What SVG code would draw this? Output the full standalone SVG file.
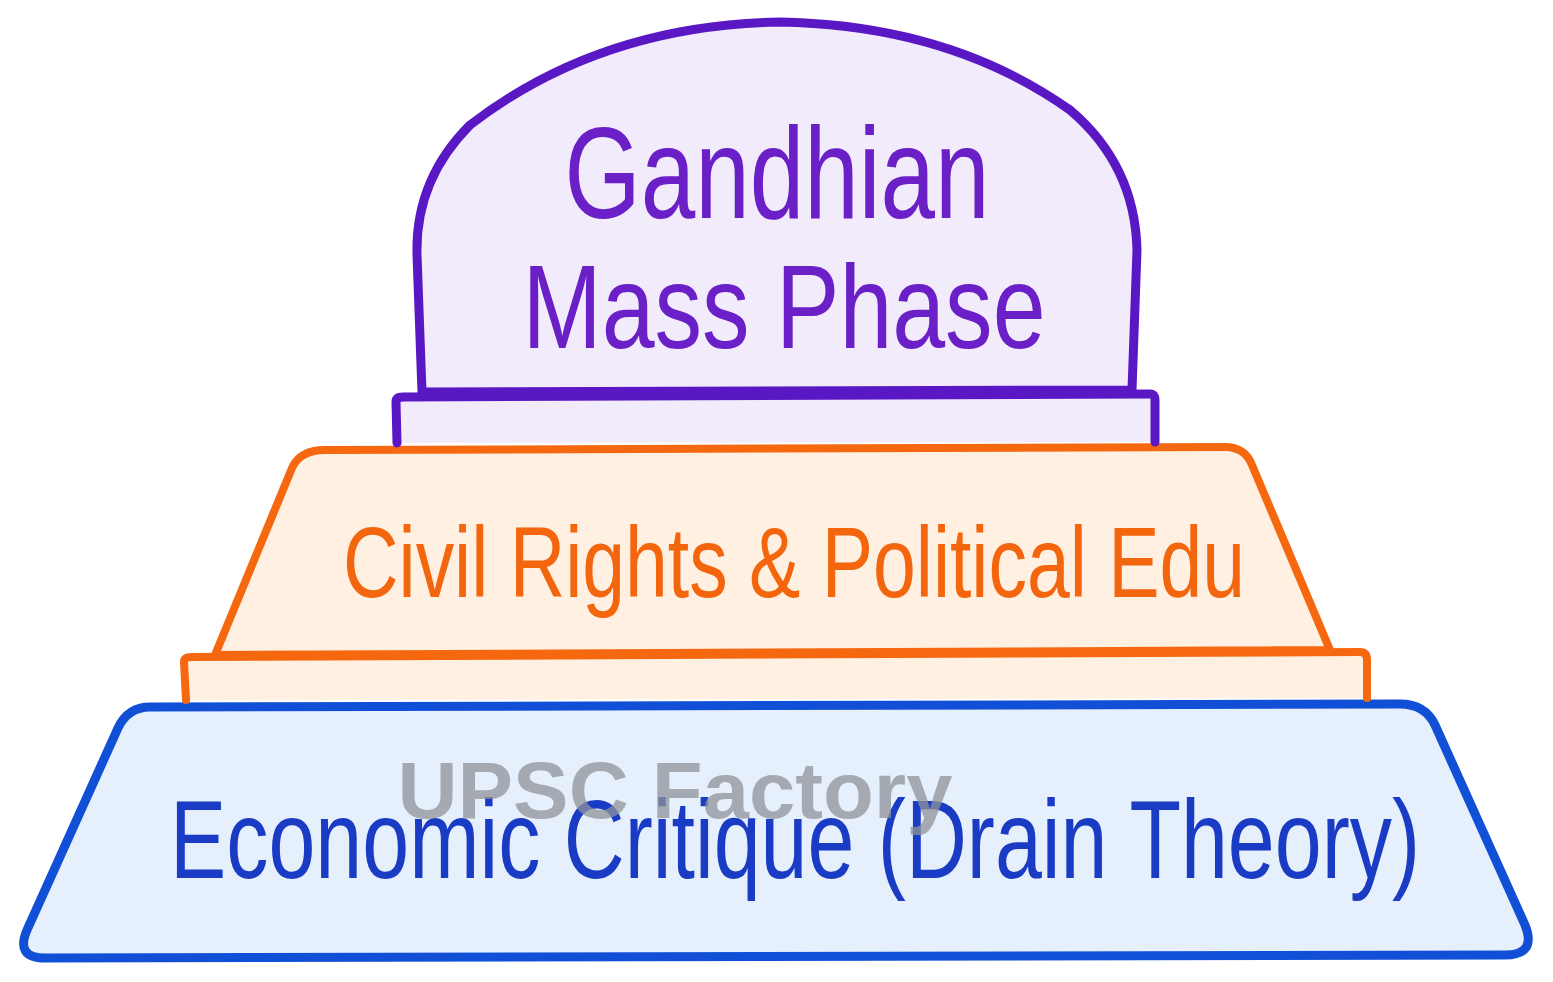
<svg xmlns="http://www.w3.org/2000/svg" width="1553" height="982" viewBox="0 0 1553 982">
<style>
.lbl{font-family:"Liberation Sans","Noto Sans",sans-serif;text-anchor:middle}
.pur{fill:#f1ebfc;stroke:#5a18c4;stroke-width:9;stroke-linejoin:round;stroke-linecap:round}
.org{fill:#fff0e2;stroke:#f5680f;stroke-width:8;stroke-linejoin:round;stroke-linecap:round}
.blu{fill:#e6effc;stroke:#1150d6;stroke-width:9;stroke-linejoin:round;stroke-linecap:round}
</style>
<rect width="1553" height="982" fill="#ffffff"/>
<g id="tier-economic">
<path class="blu" d="M150 707 L1400 704 Q1425 704 1435 725 L1525 925 Q1537 955 1505 955 L45 958 Q15 958 27 930 L118 728 Q128 707 150 707 Z"/>
<text class="lbl" x="795" y="878" font-size="112" fill="#1a3cc4" textLength="1250" lengthAdjust="spacingAndGlyphs">Economic Critique (Drain Theory)</text>
</g>
<g id="tier-civil">
<path class="org" d="M186 700 L184 662 Q184 657 192 657 L1360 652 Q1367 652 1367 660 L1367 698"/>
<path class="org" d="M325 450 L1225 447 Q1245 447 1252 465 L1330 650 L215 655 L292 468 Q300 450 325 450 Z"/>
<text class="lbl" x="794" y="597" font-size="100" fill="#f3660e" textLength="902" lengthAdjust="spacingAndGlyphs">Civil Rights &amp; Political Edu</text>
</g>
<g id="tier-gandhian">
<path class="pur" d="M397 443 L396 402 Q396 397 403 397 L1150 394 Q1155 394 1155 400 L1155 442"/>
<path class="pur" d="M422 392 L417 255 Q415 180 470 125 Q600 25 780 22 Q950 25 1070 110 Q1135 165 1137 250 L1132 390 Z"/>
<text class="lbl" x="777" y="218" font-size="130" fill="#6a20c6" textLength="425" lengthAdjust="spacingAndGlyphs">Gandhian</text>
<text class="lbl" x="784" y="348" font-size="118" fill="#6a20c6" textLength="523" lengthAdjust="spacingAndGlyphs">Mass Phase</text>
</g>
<text x="675" y="818" font-family="Liberation Sans,Noto Sans,sans-serif" font-weight="bold" font-size="80" fill="#8f939a" fill-opacity="0.75" text-anchor="middle" textLength="555" lengthAdjust="spacingAndGlyphs">UPSC Factory</text>
</svg>
